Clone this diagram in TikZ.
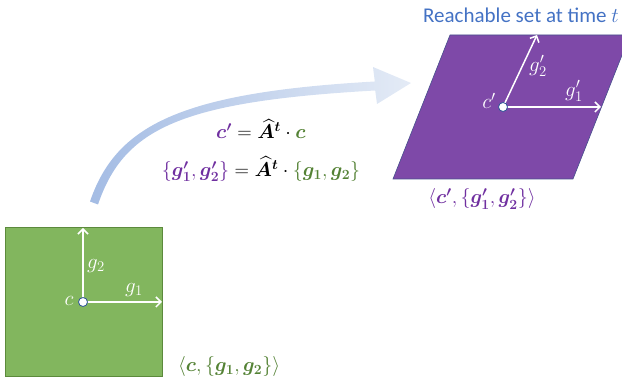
\RequirePackage{fix-cm}
\documentclass[tikz,border=0pt]{standalone}
\usepackage{amsmath,bm}
\usepackage{fontspec}
\newfontfamily\calibri{Carlito}
\usetikzlibrary{arrows.meta}
\definecolor{gfill}{RGB}{130,182,94}
\definecolor{gline}{RGB}{92,138,60}
\definecolor{pfill}{RGB}{126,73,168}
\definecolor{pline}{RGB}{70,80,140}
\definecolor{ptext}{RGB}{112,48,160}
\definecolor{gtext}{RGB}{84,130,53}
\definecolor{ttl}{RGB}{68,114,196}
\definecolor{arrA}{RGB}{164,188,228}
\definecolor{arrB}{RGB}{228,235,246}
\definecolor{cdot}{RGB}{47,85,151}
\begin{document}
\begin{tikzpicture}[x=1pt,y=1pt,
  vec/.style={white, line width=1.5pt, -{Straight Barb[length=5pt,width=10pt]}},
  ctr/.style={circle, draw=cdot, fill=white, inner sep=0pt, minimum size=9pt, line width=0.8pt},
  lab/.style={text=white, font=\fontsize{21}{24}\selectfont, inner sep=1pt},
  eq/.style={font=\fontsize{20}{24}\selectfont, inner sep=0pt}]
\useasboundingbox (0,0) rectangle (622,382);
\clip (0,0) rectangle (622,382);
% curved arrow
\shade[left color=arrA, right color=arrB]
  (90,180.5) .. controls (116,256.5) and (179.8,289.5) .. (374.8,300.5)
  -- (373,315) -- (411,299) -- (377,278) -- (375.2,291.5)
  .. controls (180.2,280.5) and (124,253.5) .. (98,177.5) -- cycle;
% green square
\node[draw=gline, fill=gfill, line width=0.8pt, minimum width=157pt, minimum height=149pt, inner sep=0pt] (sq) at (83.5,80.5) {};
\coordinate (g1e) at (162,80);
\coordinate (g2e) at (83,154);
\draw[vec] (83,80) -- (g1e);
\draw[vec] (83,80) -- (g2e);
\node[ctr] (c) at (83,80) {};
\node[lab] (lc) at (69,81) {$c$};
\node[lab] (lg1) at (134,92) {$g_1$};
\node[lab] (lg2) at (96,116) {$g_2$};
\node[eq, text=gtext, anchor=west] (sqlab) at (178,15) {$\langle \bm{c},\{\bm{g_1},\bm{g_2}\}\rangle$};
% purple parallelogram
\filldraw[fill=pfill, draw=pline, line width=0.6pt] (393,203) -- (573,203) -- (630,347) -- (450,347) -- cycle;
\coordinate (h1e) at (601,275);
\coordinate (h2e) at (537,347);
\draw[vec] (503,275) -- (h1e);
\draw[vec] (503,275) -- (h2e);
\node[ctr] (cp) at (503,275) {};
\node[lab] (lcp) at (489,281) {$c'$};
\node[lab] (lh1) at (574,291) {$g_1'$};
\node[lab] (lh2) at (538,316) {$g_2'$};
\node[eq, text=ptext] (plab) at (482,183) {$\langle \bm{c'},\{\bm{g_1'},\bm{g_2'}\}\rangle$};
\node[anchor=east, text=ttl, font=\calibri\fontsize{21}{24}\selectfont, inner sep=0pt] (title) at (619,367) {Reachable set at time $t$};
% equations
\node[eq] (eq1) at (261,253) {$\color{ptext}\bm{c'}\color{black} = \bm{\widehat{A}^t}\cdot \color{gtext}\bm{c}$};
\node[eq] (eq2) at (261,213) {$\color{ptext}\{\bm{g_1'},\bm{g_2'}\}\color{black} = \bm{\widehat{A}^t}\cdot \color{gtext}\{\bm{g_1},\bm{g_2}\}$};
\end{tikzpicture}
\end{document}
